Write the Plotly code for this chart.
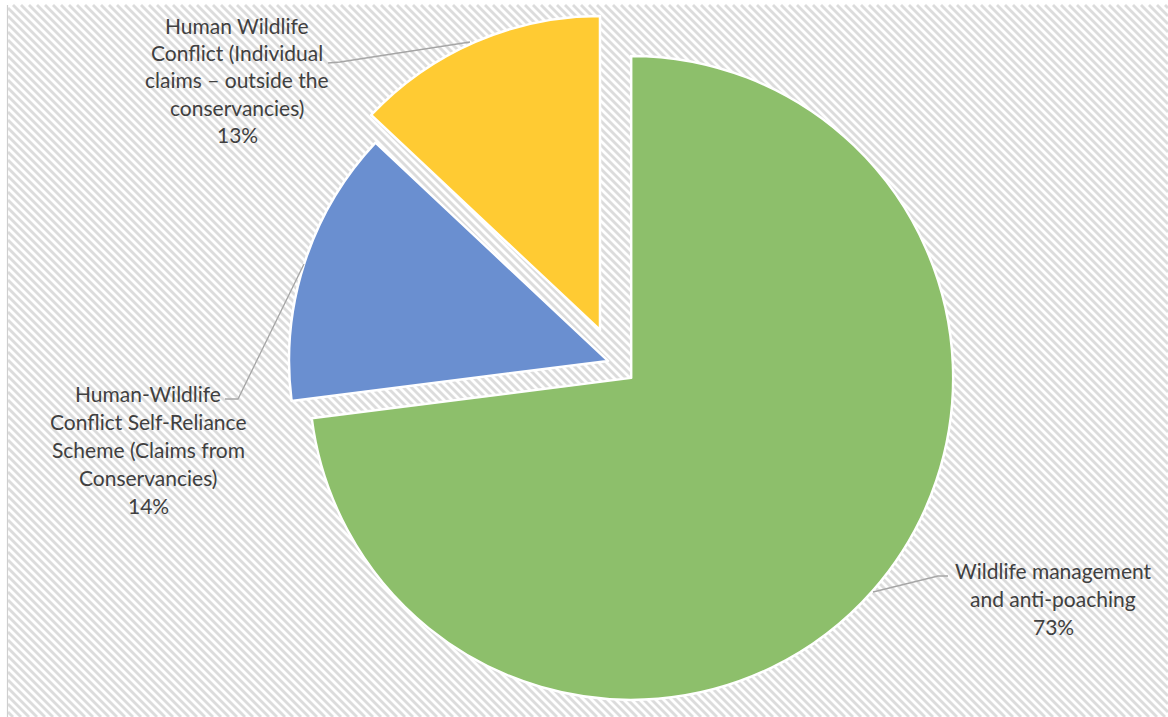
import plotly.graph_objects as go

# ---------------- data ----------------
slice_names = [
    "Wildlife management and anti-poaching",
    "Human-Wildlife Conflict Self-Reliance Scheme (Claims from Conservancies)",
    "Human Wildlife Conflict (Individual claims – outside the conservancies)",
]
slice_values = [73, 14, 13]
label_lines = [
    ["Wildlife management", "and anti-poaching"],
    ["Human-Wildlife", "Conflict Self-Reliance", "Scheme (Claims from", "Conservancies)"],
    ["Human Wildlife", "Conflict (Individual", "claims – outside the", "conservancies)"],
]
slice_colors = ["#8dbf6b", "#6a8fd0", "#ffcb33"]

# ---------------- layout helpers ----------------
W, H = 1168, 717


def px(x):
    return x / W


def py(y):
    return 1 - y / H


CX, CY = 614.3, 363.0  # pie centre in pixels
TRANSP = "rgba(0,0,0,0)"

fig = go.Figure()


def add_pie(visible, radius, pulls_px):
    pulls = [p / radius for p in pulls_px]
    max_pull = max(pulls)
    half = radius * (1 + max_pull)
    colors = [col if v else TRANSP for col, v in zip(slice_colors, visible)]
    widths = [2.5 if v else 0 for v in visible]
    fig.add_trace(go.Pie(
        labels=slice_names,
        values=slice_values,
        sort=False,
        direction="clockwise",
        rotation=0,
        pull=pulls,
        marker=dict(colors=colors, line=dict(color="white", width=widths)),
        textinfo="none",
        hoverinfo="label+percent",
        showlegend=False,
        domain=dict(x=[px(CX - half), px(CX + half)], y=[py(CY + half), py(CY - half)]),
    ))


# each slice drawn with its own radius / explosion
add_pie([True, False, False], 322, [22.5, 0, 0])
add_pie([False, True, False], 319, [0, 6.6, 0])
add_pie([False, False, True], 314, [0, 0, 36])

shapes = []
# diagonal hatched background
x0b, y0b, x1b, y1b = 8, 5, W, H
period = 8
c = -(y1b - y0b) - period
while c < x1b:
    sx, sy = c + y0b, y0b
    if sx < x0b:
        sx, sy = x0b, x0b - c
    ex, ey = c + y1b, y1b
    if ex > x1b:
        ex, ey = x1b, x1b - c
    if sy <= y1b and sx <= x1b and ey >= y0b:
        shapes.append(dict(type="line", xref="paper", yref="paper",
                           x0=px(sx), y0=py(sy), x1=px(ex), y1=py(ey),
                           line=dict(color="#dcdcdc", width=2.8), layer="below"))
    c += period

# left frame line
shapes.append(dict(type="line", xref="paper", yref="paper",
                   x0=px(7.5), y0=py(5), x1=px(7.5), y1=py(H),
                   line=dict(color="#cfcfcf", width=1.2), layer="below"))

# leader lines
leaders = [
    [(873, 592), (938, 576), (948, 576)],
    [(225, 399), (238, 399), (304, 264)],
    [(328, 63), (340, 62), (470, 42)],
]
for pts in leaders:
    path = "M " + " L ".join(f"{px(a)},{py(b)}" for a, b in pts)
    shapes.append(dict(type="path", xref="paper", yref="paper", path=path,
                       line=dict(color="#a6a6a6", width=1.3)))

# label annotations (one per text line)
label_centers = [(1053, 570), (148, 393.3), (237, 25)]
line_gap = [28, 28, 27.4]
total = sum(slice_values)
annotations = []
for i, lines in enumerate(label_lines):
    cx, cy = label_centers[i]
    all_lines = lines + [f"{round(100 * slice_values[i] / total)}%"]
    for j, t in enumerate(all_lines):
        annotations.append(dict(
            text=t, x=px(cx), y=py(cy + j * line_gap[i]), xref="paper", yref="paper",
            xanchor="center", yanchor="middle", showarrow=False,
            font=dict(family="Lato", size=21, color="#404040"),
        ))

fig.update_layout(
    width=W, height=H,
    margin=dict(l=0, r=0, t=0, b=0),
    paper_bgcolor="white",
    plot_bgcolor="white",
    shapes=shapes,
    annotations=annotations,
)

fig.write_html("out.html")
